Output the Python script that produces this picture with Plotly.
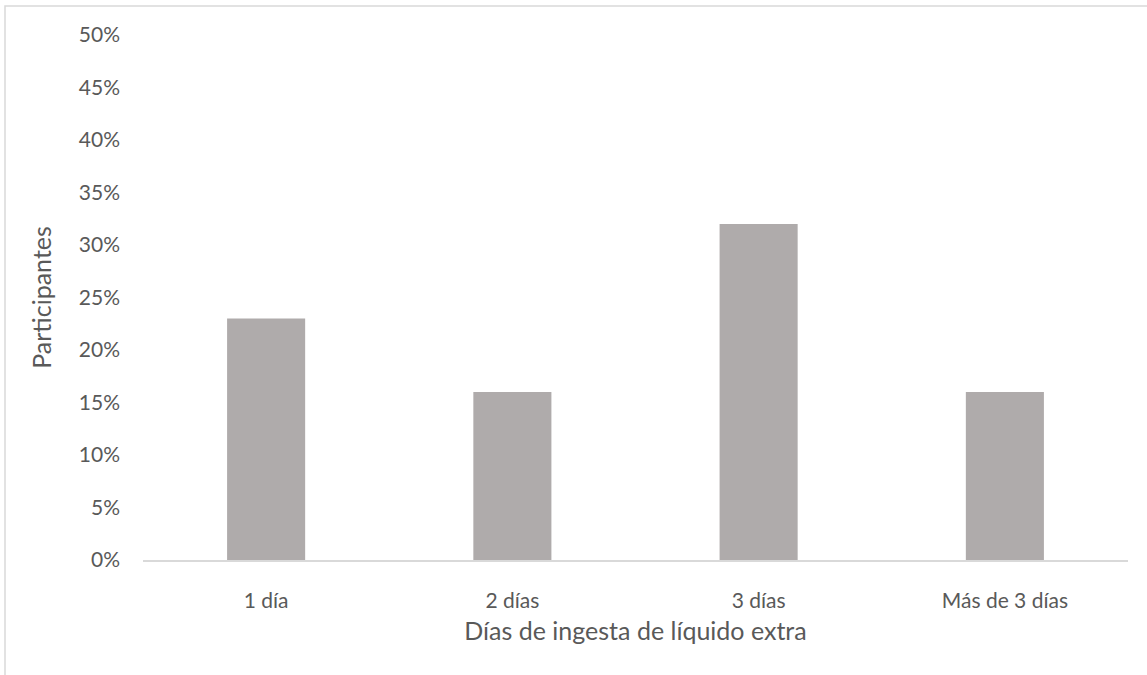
import plotly.graph_objects as go

# Days of extra fluid intake vs share of participants (%)
categories = ["1 día", "2 días", "3 días", "Más de 3 días"]
participants_pct = [23, 16, 32, 16]
y_ticks = [0, 5, 10, 15, 20, 25, 30, 35, 40, 45, 50]
y_tick_labels = [f"{t}%" for t in y_ticks]

text_color = "#595959"
font_family = "Lato, 'Open Sans', sans-serif"
tick_size = 21
title_size = 25

fig = go.Figure(
    go.Bar(
        x=categories,
        y=participants_pct,
        marker=dict(color="#AFABAB", line=dict(width=0)),
        hovertemplate="%{x}: %{y}%<extra></extra>",
    )
)

fig.update_layout(
    width=1147,
    height=675,
    margin=dict(l=143, r=19, t=35, b=115),
    paper_bgcolor="white",
    plot_bgcolor="white",
    bargap=0.683,
    showlegend=False,
    font=dict(family=font_family, color=text_color, size=tick_size),
    shapes=[
        # outer chart frame (extends past the page edge on right and bottom)
        dict(
            type="rect", xref="paper", yref="paper",
            x0=(5 - 143) / 985, x1=(1160 - 143) / 985,
            y0=(560 - 690) / 525, y1=(560 - 6) / 525,
            line=dict(color="#D9D9D9", width=1.5),
            fillcolor="rgba(0,0,0,0)", layer="below",
        )
    ],
)

fig.update_xaxes(
    showgrid=False,
    showline=True,
    linecolor="#D9D9D9",
    linewidth=1.5,
    ticks="",
    ticklabelstandoff=21,
    tickfont=dict(size=tick_size, color=text_color),
    title=dict(text="Días de ingesta de líquido extra",
               font=dict(size=title_size, color=text_color), standoff=12),
)

fig.update_yaxes(
    range=[0, 50],
    tickvals=y_ticks,
    ticktext=y_tick_labels,
    showgrid=False,
    zeroline=False,
    showline=False,
    ticks="",
    ticklabelstandoff=22,
    tickfont=dict(size=tick_size, color=text_color),
    title=dict(text="Participantes", font=dict(size=title_size, color=text_color), standoff=20),
)

fig.write_html("out.html")
